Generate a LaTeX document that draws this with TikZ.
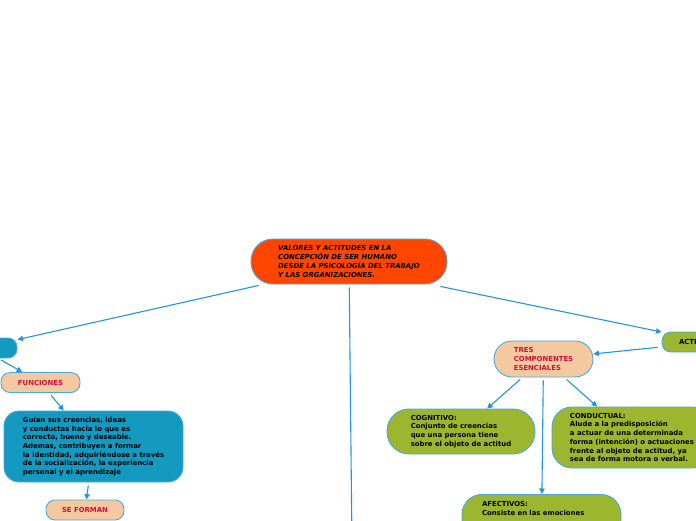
\documentclass[tikz,border=0pt]{standalone}
\usepackage{fontspec}
\setmainfont{DejaVu Sans}
\usepackage{xcolor}
\definecolor{mapRed}{HTML}{FF4500}
\definecolor{mapTeal}{HTML}{1499C0}
\definecolor{mapOlive}{HTML}{9DB62F}
\definecolor{mapPeach}{HTML}{F5C9A0}
\definecolor{mapLabel}{HTML}{D0103A}
\definecolor{mapLine}{HTML}{2196DE}
\definecolor{mapEdge}{HTML}{4AA8E0}
\usepackage{tikz}
\usetikzlibrary{arrows.meta, positioning}

\begin{document}
\begin{tikzpicture}[x=1pt, y=-1pt,
				box/.style={draw=mapEdge, line width=0.9pt, align=left,
					font=\fontsize{6.9}{8.7}\selectfont\bfseries, inner sep=0pt},
				tag/.style={box, fill=mapPeach, text=mapLabel, rounded corners=9pt,
					minimum height=20pt},
				leaf/.style={box, fill=mapOlive, rounded corners=20pt},
				conn/.style={draw=mapLine, line width=1.1pt,
					-{Triangle[length=5.5pt, width=5.5pt]}, shorten <=3pt}
			]
			\useasboundingbox (0,0) rectangle (696,520);
			\clip (0,0) rectangle (696,520);

			% ===== Central topic =====
			\node[box, fill=mapRed, rounded corners=22pt, minimum width=196pt,
				minimum height=45pt, font=\fontsize{6.9}{8.7}\selectfont\bfseries\itshape]
				(main) at (349,261.5)
				{VALORES Y ACTITUDES EN LA\\CONCEPCIÓN DE SER HUMANO\\DESDE LA PSICOLOGÍA DEL TRABAJO\\Y LAS ORGANIZACIONES.};

			% ===== Left branch =====
			\node[box, fill=mapTeal, rounded corners=9pt, minimum width=74pt,
				minimum height=20pt] (valores) at (-20,348) {VALORES};
			\node[tag, minimum width=79pt] (funciones) at (40.5,382.5) {FUNCIONES};
			\node[box, fill=mapTeal, rounded corners=15pt, minimum width=179pt,
				minimum height=71pt] (guian) at (93.5,446.5)
				{Guían sus creencias, ideas\\y conductas hacia lo que es\\correcto, bueno y deseable.\\Ademas, contribuyen a formar\\la identidad, adquiriéndose a través\\de la socialización, la experiencia\\personal y el aprendizaje};
			\node[tag, minimum width=78pt] (forman) at (85,510) {SE FORMAN};

			% ===== Right branch =====
			\node[box, fill=mapOlive, rounded corners=9pt, text width=62pt,
				inner xsep=17pt, minimum height=20pt] (actitudes) at (710,342) {ACTITUDES};
			\node[tag, rounded corners=18pt, minimum width=99pt, minimum height=36pt]
				(tres) at (543.5,359) {TRES\\COMPONENTES\\ESENCIALES};
			\node[leaf, rounded corners=22pt, minimum width=148pt, minimum height=45pt]
				(cognitivo) at (461,431.5)
				{COGNITIVO:\\Conjunto de creencias\\que una persona tiene\\sobre el objeto de actitud};
			\node[leaf, minimum width=160pt, minimum height=61pt] (conductual) at (632,437.5)
				{CONDUCTUAL:\\Alude a la predisposición\\a actuar de una determinada\\forma (intención) o actuaciones\\frente al objeto de actitud, ya\\sea de forma motora o verbal.};
			% node runs past the lower edge, only its top shows
			\node[leaf, anchor=north, text width=119pt, inner xsep=20pt, inner ysep=7pt,
				text depth=50pt] (afectivos) at (541.5,494)
				{AFECTIVOS:\\Consiste en las emociones};

			\coordinate (down) at (353,640);

			% ===== Connectors =====
			\draw[conn, shorten <=0pt] ([shift={(8pt,-1pt)}]main.south west) -- (valores);
			\draw[conn, shorten <=0pt] ([shift={(-7pt,-2pt)}]main.south east) -- (actitudes);
			\draw[conn] (main) -- (down);
			\draw[conn] (valores) -- (funciones);
			\draw[conn] (funciones) -- (guian);
			\draw[conn] (guian) -- (forman);
			\draw[conn, shorten <=4pt] (actitudes) -- (tres);
			\draw[conn] (tres) -- (cognitivo);
			\draw[conn] (tres) -- (afectivos);
			\draw[conn] (tres) -- (conductual);
\end{tikzpicture}
\end{document}
